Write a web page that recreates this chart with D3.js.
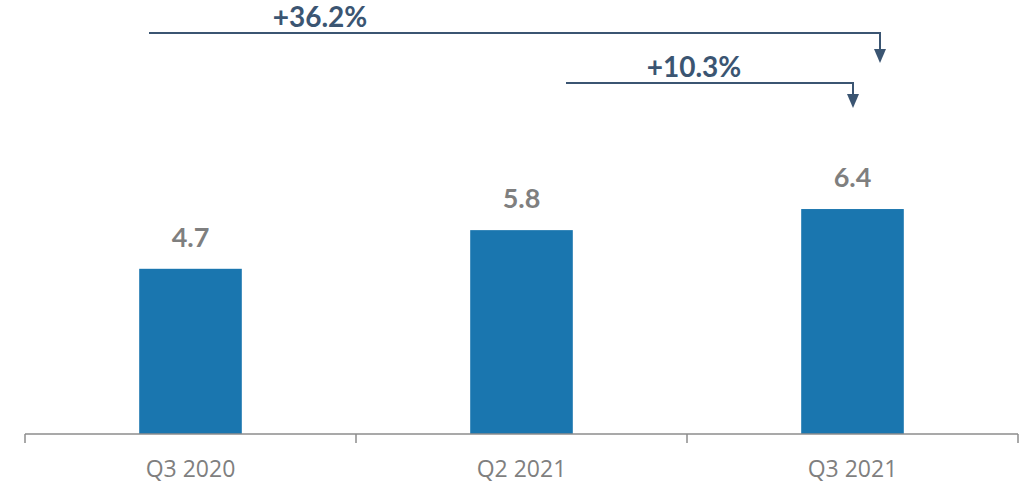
<!DOCTYPE html>
<html><head><meta charset="utf-8">
<script src="https://cdn.jsdelivr.net/npm/d3@7"></script>
<style>html,body{margin:0;padding:0;background:#fff;}</style>
</head><body>
<svg id="c" width="1020" height="483"></svg>
<script>
const categories = ["Q3 2020", "Q2 2021", "Q3 2021"];
const values = [4.7, 5.8, 6.4];
const valueLabels = ["4.7", "5.8", "6.4"];
const growthLabels = ["+36.2%", "+10.3%"];
const growthFrom = ["Q3 2020", "Q2 2021"];
const growthTo = ["Q3 2021", "Q3 2021"];

const svg = d3.select("#c");
const baseY = 434;
const x = d3.scaleBand().domain(categories).range([25, 1018]).paddingInner(0.69).paddingOuter(0.345);
const y = d3.scaleLinear().domain([0, 10]).range([baseY, baseY - 351.5]);

// bars
svg.selectAll("rect.bar").data(values).join("rect")
  .attr("class","bar")
  .attr("x",(d,i)=>x(categories[i]))
  .attr("y",d=>y(d))
  .attr("width",x.bandwidth())
  .attr("height",d=>baseY-y(d))
  .attr("fill","#1a76af");

// value labels
svg.selectAll("text.val").data(values).join("text")
  .attr("class","val")
  .attr("x",(d,i)=>x(categories[i])+x.bandwidth()/2)
  .attr("y",d=>y(d)-22)
  .attr("text-anchor","middle")
  .attr("font-family","Lato, 'Open Sans', sans-serif")
  .attr("font-weight","bold")
  .attr("font-size","27px")
  .attr("fill","#7f7f7f")
  .text((d,i)=>valueLabels[i]);

// axis
const edges = [25, 25+ (1018-25)/3, 25+2*(1018-25)/3, 1018];
const ax = svg.append("g");
ax.append("line").attr("x1",25).attr("x2",1018).attr("y1",baseY).attr("y2",baseY)
  .attr("stroke","#8c8c8c").attr("stroke-width",1.5);
ax.selectAll("line.tk").data(edges).join("line").attr("class","tk")
  .attr("x1",d=>d).attr("x2",d=>d).attr("y1",baseY).attr("y2",baseY+9)
  .attr("stroke","#8c8c8c").attr("stroke-width",1.5);
ax.selectAll("text.cat").data(categories).join("text").attr("class","cat")
  .attr("x",d=>x(d)+x.bandwidth()/2)
  .attr("y",477)
  .attr("text-anchor","middle")
  .attr("font-family","'Open Sans', sans-serif")
  .attr("font-size","23px")
  .attr("fill","#7f7f7f")
  .text(d=>d);

// growth arrows
const col = "#3b5572";
const arrows = [
  {x1:149, x2:880, ly:33, tip:63, tx:320},
  {x1:566, x2:853, ly:83, tip:108, tx:694}
];
arrows.forEach((a,i)=>{
  svg.append("path")
    .attr("d",`M${a.x1},${a.ly} H${a.x2} V${a.tip-14}`)
    .attr("fill","none").attr("stroke",col).attr("stroke-width",2);
  svg.append("path")
    .attr("d",`M${a.x2-6},${a.tip-14} L${a.x2+6},${a.tip-14} L${a.x2},${a.tip} Z`)
    .attr("fill",col);
  svg.append("text")
    .attr("x",a.tx).attr("y",a.ly-6)
    .attr("text-anchor","middle")
    .attr("font-family","Lato, 'Open Sans', sans-serif")
    .attr("font-weight","bold")
    .attr("font-size","28px")
    .attr("fill",col)
    .text(growthLabels[i]);
});
</script>
</body></html>
